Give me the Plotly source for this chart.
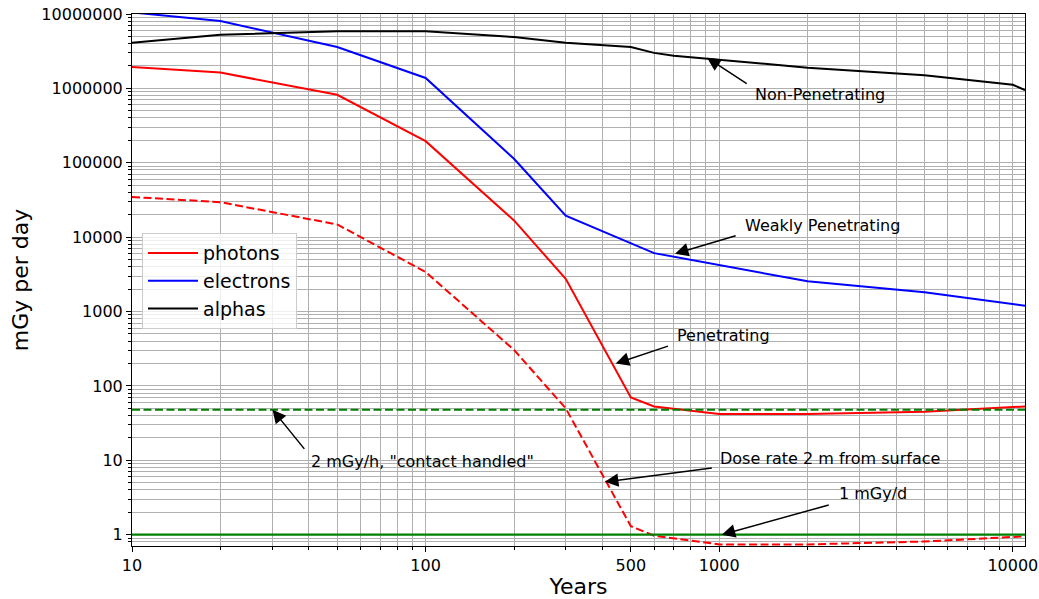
import math
import plotly.graph_objects as go

# ---------------- data ----------------
photon_years = [10, 20, 50, 100, 200, 300, 500, 600, 1000, 2000, 5000, 11000]
photon_dose = [1.94e6, 1.63e6, 8.2e5, 1.95e5, 1.68e4, 2.75e3, 70, 53, 42, 42, 45, 53]

photon2m_years = [10, 20, 50, 100, 200, 300, 500, 600, 1000, 2000, 5000, 11000]
photon2m_dose = [3.47e4, 2.95e4, 1.48e4, 3.4e3, 305, 50, 1.3, 0.97, 0.74, 0.74, 0.81, 0.95]

electron_years = [10, 20, 50, 100, 200, 300, 600, 2000, 5000, 11000]
electron_dose = [1.05e7, 8.05e6, 3.6e6, 1.38e6, 1.13e5, 1.95e4, 6.1e3, 2.55e3, 1.82e3, 1.2e3]

alpha_years = [10, 20, 50, 100, 200, 300, 500, 600, 700, 2000, 5000, 10000, 11000]
alpha_dose = [4.1e6, 5.25e6, 5.85e6, 5.85e6, 4.9e6, 4.1e6, 3.6e6, 3.0e6, 2.75e6, 1.9e6, 1.5e6, 1.12e6, 9.5e5]

limit_years = [10, 11000]
contact_limit = [48, 48]      # 2 mGy/h
daily_limit = [1, 1]          # 1 mGy/d

x_ticks = [10, 100, 500, 1000, 10000]
x_ticktext = ["10", "100", "500", "1000", "10000"]
y_ticks = [1, 10, 100, 1000, 10000, 100000, 1000000, 10000000]
y_ticktext = ["1", "10", "100", "1000", "10000", "100000", "1000000", "10000000"]

# annotations: text, text position, arrow tip, arrow tail (years, mGy/day)
ann_text = ["Non-Penetrating", "Weakly Penetrating", "Penetrating",
            "2 mGy/h, \"contact handled\"", "Dose rate 2 m from surface", "1 mGy/d"]
ann_text_x = [1305, 1206, 707, 40.0, 987, 2522]
ann_text_y = [8.23e5, 1.43e4, 474, 9.6, 10.5, 3.57]
arrow_tip_x = [909, 707, 444, 30.1, 408, 1020]
arrow_tip_y = [2.59e6, 5995, 200, 48, 5.13, 1.0]
arrow_tail_x = [1255, 1151, 677, 39.0, 955, 2388]
arrow_tail_y = [1.12e6, 1.06e4, 348, 13.6, 7.9, 2.54]

# ---------------- figure ----------------
FONT = "DejaVu Sans"
fig = go.Figure()

fig.add_trace(go.Scatter(x=photon_years, y=photon_dose, mode="lines", name="photons",
                         line=dict(color="#ff0000", width=2)))
fig.add_trace(go.Scatter(x=electron_years, y=electron_dose, mode="lines", name="electrons",
                         line=dict(color="#0000ff", width=2)))
fig.add_trace(go.Scatter(x=alpha_years, y=alpha_dose, mode="lines", name="alphas",
                         line=dict(color="#000000", width=2)))
fig.add_trace(go.Scatter(x=photon2m_years, y=photon2m_dose, mode="lines", showlegend=False,
                         line=dict(color="#ff0000", width=2, dash="8px,3.5px")))
fig.add_trace(go.Scatter(x=limit_years, y=contact_limit, mode="lines", showlegend=False,
                         line=dict(color="#008000", width=2, dash="8px,3.5px")))
fig.add_trace(go.Scatter(x=limit_years, y=daily_limit, mode="lines", showlegend=False,
                         line=dict(color="#008000", width=2.2)))

lg = math.log10
for t, tx, ty, hx, hy, sx, sy in zip(ann_text, ann_text_x, ann_text_y,
                                       arrow_tip_x, arrow_tip_y, arrow_tail_x, arrow_tail_y):
    fig.add_annotation(x=lg(hx), y=lg(hy), ax=lg(sx), ay=lg(sy), xref="x", yref="y",
                       axref="x", ayref="y", text="", showarrow=True, arrowhead=2,
                       arrowsize=1.8, arrowwidth=1.5, arrowcolor="black",
                       standoff=0, startstandoff=0)
    fig.add_annotation(x=lg(tx), y=lg(ty), xref="x", yref="y", text=t, showarrow=False,
                       xanchor="left", yanchor="middle",
                       font=dict(family=FONT, size=16, color="black"))

minor_x = [m * d for d in (10, 100, 1000) for m in range(2, 10) if m * d != 500]
minor_y = [m * d for d in (0.1, 1, 10, 100, 1000, 10000, 100000, 1000000) for m in range(2, 10)]

grid_color = "#b0b0b0"
fig.update_xaxes(type="log", range=[1, lg(11000)], tickmode="array", tickvals=x_ticks,
                 ticktext=x_ticktext, ticks="outside", ticklen=5, tickwidth=1, tickcolor="black",
                 showgrid=True, gridcolor=grid_color, gridwidth=1, automargin=False,
                 ticklabeloverflow="allow",
                 minor=dict(tickmode="array", tickvals=minor_x, ticks="outside", ticklen=3,
                            tickcolor="black", showgrid=True, gridcolor=grid_color, gridwidth=1),
                 showline=True, linecolor="black", linewidth=1, mirror=True, zeroline=False,
                 tickfont=dict(family=FONT, size=16, color="black"),
                 title=dict(text="Years", font=dict(family=FONT, size=22, color="black"), standoff=6))
fig.update_yaxes(type="log", range=[-0.152, 7.0], tickmode="array", tickvals=y_ticks,
                 ticktext=y_ticktext, ticks="outside", ticklen=5, tickwidth=1, tickcolor="black",
                 showgrid=True, gridcolor=grid_color, gridwidth=1, automargin=False,
                 ticklabeloverflow="allow",
                 minor=dict(tickmode="array", tickvals=minor_y, ticks="outside", ticklen=3,
                            tickcolor="black", showgrid=True, gridcolor=grid_color, gridwidth=1),
                 showline=True, linecolor="black", linewidth=1, mirror=True, zeroline=False,
                 tickfont=dict(family=FONT, size=16, color="black"),
                 title=dict(text="mGy per day", font=dict(family=FONT, size=22, color="black"), standoff=6))

fig.update_layout(width=1039, height=599, autosize=False,
                  margin=dict(l=132, r=14, t=14, b=53),
                  paper_bgcolor="white", plot_bgcolor="white",
                  font=dict(family=FONT, color="black"),
                  legend=dict(x=0.0112, y=0.588, xanchor="left", yanchor="top",
                              bgcolor="rgba(255,255,255,0.8)", bordercolor="#cccccc", borderwidth=1,
                              font=dict(family=FONT, size=19, color="black"),
                              itemwidth=50, tracegroupgap=0))

# remove the default page margin so the figure fills the window exactly
fig.write_html("out.html", config={"displayModeBar": False},
               post_script="document.body.style.margin='0';")
